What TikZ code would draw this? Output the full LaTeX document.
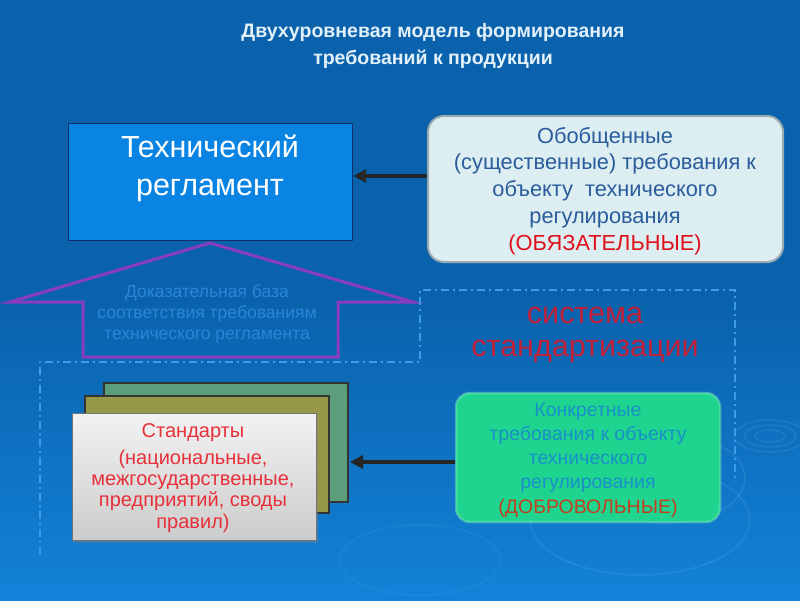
\documentclass[tikz,border=0pt]{standalone}
\usepackage{fontspec}
\setmainfont{Liberation Sans}
\usetikzlibrary{arrows.meta,shadows}
\definecolor{bgtop}{HTML}{0A62AC}
\definecolor{bgbot}{HTML}{1282D8}
\definecolor{techfill}{HTML}{0A84E2}
\definecolor{techline}{HTML}{122C6E}
\definecolor{genfill}{HTML}{DCEEF2}
\definecolor{genline}{HTML}{9AAAB2}
\definecolor{gentext}{HTML}{2A5C9C}
\definecolor{oblig}{HTML}{E0101A}
\definecolor{housep}{HTML}{8A3CC0}
\definecolor{evid}{HTML}{2A86DA}
\definecolor{sysred}{HTML}{C0203A}
\definecolor{dashc}{HTML}{3C9CEA}
\definecolor{greenback}{HTML}{5C9E7C}
\definecolor{olive}{HTML}{96984A}
\definecolor{stdtext}{HTML}{E8303A}
\definecolor{concfill}{HTML}{1ED48E}
\definecolor{conctext}{HTML}{1A90C8}
\definecolor{volun}{HTML}{C04020}
\definecolor{titlec}{HTML}{E2F0FA}
\tikzset{
  arr/.style={line width=3.2pt,draw=black!85,-{Triangle[length=13pt,width=13pt,fill=black!85]}},
  txt/.style={align=center,inner sep=0pt},
}
\begin{document}
\begin{tikzpicture}[x=1pt,y=-1pt]
\useasboundingbox (0,0) rectangle (800,600);
\shade[top color=bgtop,bottom color=bgbot,middle color=bgtop] (0,0) rectangle (800,600);
% ripples
\begin{scope}[draw=white,opacity=0.08,line width=1.5pt]
\draw (770,436) ellipse (36 and 16);
\draw (770,436) ellipse (26 and 11);
\draw (770,436) ellipse (15 and 6);
\draw (665,478) ellipse (80 and 45);
\draw (640,520) ellipse (110 and 55);
\end{scope}
\draw[white,opacity=0.05,line width=1.5pt] (420,560) ellipse (80 and 35);
% title
\node[txt,text=titlec,font=\bfseries\fontsize{19.5}{27}\selectfont] (title) at (433,46)
  {Двухуровневая модель формирования\\требований к продукции};
% technical regulation box
\node[draw=techline,fill=techfill,line width=1.2pt,minimum width=284pt,minimum height=117pt,anchor=north west,inner sep=0pt] (tech) at (68,123) {};
\node[txt,text=white,font=\fontsize{30.5}{38}\selectfont] (techtxt) at (210,168) {Технический\\регламент};
% generalized box
\node[draw=genline,fill=genfill,line width=2pt,rounded corners=16pt,minimum width=355pt,minimum height=146pt,inner sep=0pt] (gen) at (605.5,189) {};
\node[txt,text=gentext,font=\fontsize{21.8}{26.8}\selectfont] (gentxt) at (605,191)
  {Обобщенные\\(существенные) требования к\\объекту\ \ технического\\регулирования\\\textcolor{oblig}{(ОБЯЗАТЕЛЬНЫЕ)}};
\coordinate (y1) at (0,176);
\draw[arr] (gen.west |- y1) -- (tech.east |- y1);
% house arrow
\draw[housep,line width=3pt,line join=miter] (10,302) -- (210,243) -- (413,302) -- (338,302) -- (338,357) -- (83,357) -- (83,302) -- cycle;
\node[txt,text=evid,font=\fontsize{17.5}{21}\selectfont] (evtxt) at (207,314)
  {Доказательная база\\соответствия требованиям\\технического регламента};
% dashed region
\draw[dashc,line width=1.6pt,dash pattern=on 8pt off 4pt on 2pt off 4pt] (40,555) -- (40,362) -- (420,362) -- (420,290) -- (735,290) -- (735,478);
\node[txt,text=sysred,font=\fontsize{30.5}{33}\selectfont] (systxt) at (585,335) {система\\стандартизации};
% standards stack
\node[draw=black!80,fill=greenback,line width=1.6pt,minimum width=244pt,minimum height=119pt,anchor=north west,inner sep=0pt] (s3) at (103,382) {};
\node[draw=black!80,fill=olive,line width=1.6pt,minimum width=244pt,minimum height=117pt,anchor=north west,inner sep=0pt] (s2) at (84,395) {};
\node[draw=black!55,top color=white!95!black,bottom color=white!80!black,line width=1.2pt,minimum width=244pt,minimum height=127pt,anchor=north west,inner sep=0pt,drop shadow={shadow xshift=1pt,shadow yshift=-2pt,opacity=0.4}] (s1) at (72,413) {};
\node[txt,text=stdtext,font=\fontsize{20}{21.3}\selectfont] (stdtxt) at (193,478)
  {Стандарты\\[5.5pt](национальные,\\межгосударственные,\\предприятий, своды\\правил)};
% concrete box
\node[fill=concfill,rounded corners=14pt,minimum width=264pt,minimum height=129pt,inner sep=0pt,draw=concfill!60!white,line width=2.5pt,draw opacity=0.5] (conc) at (588,457.5) {};
\node[txt,text=conctext,font=\fontsize{19.5}{24.2}\selectfont] (conctxt) at (588,460)
  {Конкретные\\требования к объекту\\технического\\регулирования\\\textcolor{volun}{(ДОБРОВОЛЬНЫЕ)}};
\coordinate (y2) at (0,462);
\draw[arr] (conc.west |- y2) -- (350,462) coordinate (stk);
\end{tikzpicture}
\end{document}
